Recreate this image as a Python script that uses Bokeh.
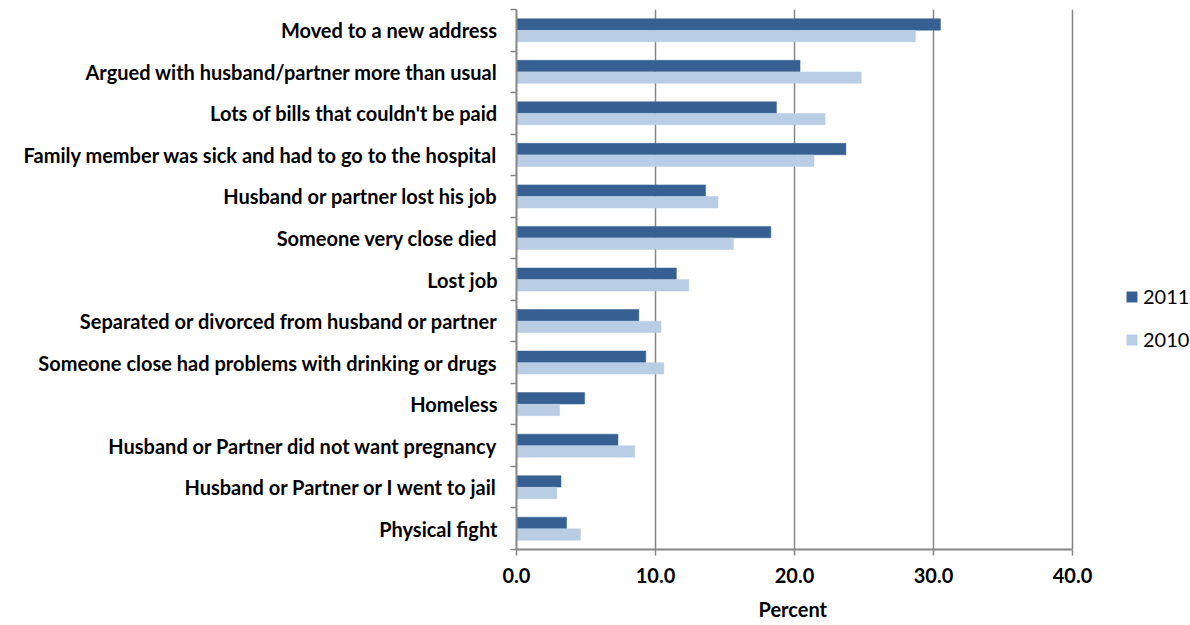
from bokeh.plotting import figure
from bokeh.models import (ColumnDataSource, FixedTicker, Legend, LegendItem,
                          Range1d, Title)
from bokeh.embed import file_html
from bokeh.resources import INLINE

categories = [
    "Moved to a new address",
    "Argued with husband/partner more than usual",
    "Lots of bills that couldn't be paid",
    "Family member was sick and had to go to the hospital",
    "Husband or partner lost his job",
    "Someone very close died",
    "Lost job",
    "Separated or divorced from husband or partner",
    "Someone close had problems with drinking or drugs",
    "Homeless",
    "Husband or Partner did not want pregnancy",
    "Husband or Partner or I went to jail",
    "Physical fight",
]
values_2011 = [30.5, 20.4, 18.7, 23.7, 13.6, 18.3, 11.5, 8.8, 9.3, 4.9, 7.3, 3.2, 3.6]
values_2010 = [28.7, 24.8, 22.2, 21.4, 14.5, 15.6, 12.4, 10.4, 10.6, 3.1, 8.5, 2.9, 4.6]
x_ticks = [0, 10, 20, 30, 40]

n = len(categories)
centers = [n - i - 0.5 for i in range(n)]
off = 0.14
hgt = 0.275

src = ColumnDataSource(dict(
    y11=[c + off for c in centers],
    y10=[c - off for c in centers],
    v11=values_2011,
    v10=values_2010,
))

FONT = "Lato"
FS = "20px"
GRID = "#868686"
DARK = "#366092"
LIGHT = "#B9CDE5"

# frame extends past 40 to host the legend; axis and grid are bounded to 0..40
FRAME_W = 674
X_MAX = 40 * FRAME_W / 556

p = figure(frame_width=FRAME_W, frame_height=540, output_backend="svg",
           toolbar_location=None,
           x_range=Range1d(0, X_MAX), y_range=Range1d(0, n),
           min_border_left=516, min_border_top=9, min_border_bottom=0,
           min_border_right=0)
p.outline_line_color = None
p.background_fill_color = "white"
p.border_fill_color = "white"

r11 = p.hbar(y="y11", right="v11", left=0, height=hgt, source=src,
             fill_color=DARK, line_color=DARK, line_width=0.5)
r10 = p.hbar(y="y10", right="v10", left=0, height=hgt, source=src,
             fill_color=LIGHT, line_color=LIGHT, line_width=0.5)

# x axis
p.xaxis.ticker = FixedTicker(ticks=x_ticks)
p.xaxis.bounds = (0, 40)
p.xaxis.major_label_overrides = {t: f"{t:.1f}" for t in x_ticks}
p.xaxis.major_label_text_font = FONT
p.xaxis.major_label_text_font_style = "bold"
p.xaxis.major_label_text_font_size = FS
p.xaxis.major_label_text_color = "black"
p.xaxis.major_label_standoff = 12
p.xaxis.axis_line_color = GRID
p.xaxis.axis_line_width = 2
p.xaxis.major_tick_line_color = GRID
p.xaxis.major_tick_line_width = 1.5
p.xaxis.major_tick_out = 6
p.xaxis.major_tick_in = 0
p.xaxis.minor_tick_line_color = None

# x axis title, centred under the 0..40 span
xtitle = Title(text="Percent", align="left", offset=242, standoff=19,
               text_font=FONT, text_font_style="bold", text_font_size=FS,
               text_color="black")
p.add_layout(xtitle, "below")

# y axis
p.yaxis.ticker = FixedTicker(ticks=centers, minor_ticks=list(range(n + 1)))
p.yaxis.major_label_overrides = {c: lab for c, lab in zip(centers, categories)}
p.yaxis.major_label_text_font = FONT
p.yaxis.major_label_text_font_style = "bold"
p.yaxis.major_label_text_font_size = FS
p.yaxis.major_label_text_color = "black"
p.yaxis.major_label_standoff = 13
p.yaxis.major_tick_line_color = None
p.yaxis.minor_tick_line_color = GRID
p.yaxis.minor_tick_line_width = 1.5
p.yaxis.minor_tick_out = 6
p.yaxis.minor_tick_in = 0
p.yaxis.axis_line_color = GRID
p.yaxis.axis_line_width = 2

p.ygrid.grid_line_color = None
p.xgrid.grid_line_color = GRID
p.xgrid.grid_line_width = 1.5
p.xgrid.bounds = (0, 40)

legend = Legend(items=[LegendItem(label="2011", renderers=[r11]),
                       LegendItem(label="2010", renderers=[r10])],
                location=(609, 198), orientation="vertical")
legend.label_text_font = FONT
legend.label_text_font_size = FS
legend.label_text_color = "black"
legend.glyph_width = 13
legend.glyph_height = 13
legend.spacing = 19
legend.label_standoff = 5
legend.border_line_color = None
legend.background_fill_alpha = 0
legend.margin = 0
legend.padding = 0
legend.label_height = 20
p.add_layout(legend)

open("out.html", "w").write(file_html(p, INLINE))
